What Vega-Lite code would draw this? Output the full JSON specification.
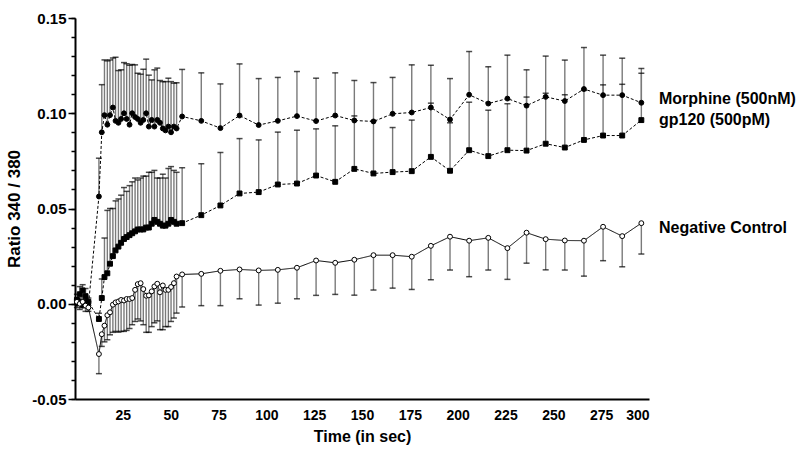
{
  "$schema": "https://vega.github.io/schema/vega-lite/v6.json",
  "width": 574,
  "height": 381,
  "autosize": "none",
  "padding": {"left": 75, "top": 18, "right": 151, "bottom": 57},
  "background": "white",
  "config": {"view": {"stroke": null}, "font": "Liberation Sans"},
  "datasets": {
    "d": [
      {"s":"M","t":1,"v":0.000,"e":0.002},{"s":"M","t":2.5,"v":0.001,"e":0.003},{"s":"M","t":4,"v":-0.001,"e":0.002},{"s":"M","t":5.5,"v":0.001,"e":0.004},{"s":"M","t":7,"v":-0.001,"e":0.001},
      {"s":"M","t":12.5,"v":0.0563,"e":0.0764},
      {"s":"M","t":14,"v":0.090,"e":0.115},{"s":"M","t":15.4,"v":0.099,"e":0.128},{"s":"M","t":16.9,"v":0.094,"e":0.1275},{"s":"M","t":18.3,"v":0.099,"e":0.128},{"s":"M","t":19.8,"v":0.103,"e":0.129},{"s":"M","t":21.2,"v":0.096,"e":0.1294},{"s":"M","t":22.7,"v":0.095,"e":0.1224},{"s":"M","t":24.1,"v":0.097,"e":0.1228},{"s":"M","t":25.6,"v":0.100,"e":0.1266},{"s":"M","t":27.0,"v":0.097,"e":0.126},{"s":"M","t":28.5,"v":0.094,"e":0.1252},{"s":"M","t":29.9,"v":0.100,"e":0.1256},{"s":"M","t":31.4,"v":0.098,"e":0.1254},{"s":"M","t":32.8,"v":0.097,"e":0.121},{"s":"M","t":34.3,"v":0.095,"e":0.1205},{"s":"M","t":35.7,"v":0.0965,"e":0.1231},{"s":"M","t":37.2,"v":0.100,"e":0.1284},{"s":"M","t":38.6,"v":0.093,"e":0.120},{"s":"M","t":40.1,"v":0.0965,"e":0.1175},{"s":"M","t":41.5,"v":0.093,"e":0.1228},{"s":"M","t":43.0,"v":0.0965,"e":0.1237},{"s":"M","t":44.4,"v":0.095,"e":0.1172},{"s":"M","t":45.9,"v":0.092,"e":0.1166},{"s":"M","t":47.3,"v":0.091,"e":0.1166},{"s":"M","t":48.8,"v":0.093,"e":0.1184},{"s":"M","t":50.2,"v":0.090,"e":0.1166},{"s":"M","t":51.7,"v":0.093,"e":0.1158},{"s":"M","t":53.1,"v":0.092,"e":0.116},
      {"s":"M","t":56,"v":0.0983,"e":0.123},{"s":"M","t":66,"v":0.0960,"e":0.1212},{"s":"M","t":76,"v":0.0922,"e":0.1154},{"s":"M","t":86,"v":0.0988,"e":0.1259},{"s":"M","t":96,"v":0.0938,"e":0.1182},{"s":"M","t":106,"v":0.0960,"e":0.1188},{"s":"M","t":116,"v":0.0985,"e":0.1219},{"s":"M","t":126,"v":0.0959,"e":0.1184},{"s":"M","t":136,"v":0.0988,"e":0.1212},{"s":"M","t":146,"v":0.0962,"e":0.1172},{"s":"M","t":156,"v":0.0957,"e":0.1161},{"s":"M","t":166,"v":0.0997,"e":0.1188},{"s":"M","t":176,"v":0.1004,"e":0.1254},{"s":"M","t":186,"v":0.1030,"e":0.1252},{"s":"M","t":196,"v":0.0967,"e":0.1182},{"s":"M","t":206,"v":0.1097,"e":0.1324},{"s":"M","t":216,"v":0.1051,"e":0.1244},{"s":"M","t":226,"v":0.1077,"e":0.1305},{"s":"M","t":236,"v":0.1040,"e":0.1228},{"s":"M","t":246,"v":0.1086,"e":0.1300},{"s":"M","t":256,"v":0.1064,"e":0.1279},{"s":"M","t":266,"v":0.1127,"e":0.1345},{"s":"M","t":276,"v":0.1095,"e":0.1305},{"s":"M","t":286,"v":0.1095,"e":0.1289},{"s":"M","t":296,"v":0.1055,"e":0.1235},

      {"s":"G","t":1,"v":0.002,"e":0.005},{"s":"G","t":2.5,"v":0.005,"e":0.009},{"s":"G","t":4,"v":0.007,"e":0.010},{"s":"G","t":5.5,"v":0.004,"e":0.008},{"s":"G","t":7,"v":0.001,"e":0.003},
      {"s":"G","t":12.5,"v":-0.008,"e":-0.005},
      {"s":"G","t":14,"v":0.003,"e":0.013},{"s":"G","t":15.4,"v":0.014,"e":0.0345},{"s":"G","t":16.9,"v":0.016,"e":0.049},{"s":"G","t":18.3,"v":0.021,"e":0.050},{"s":"G","t":19.8,"v":0.025,"e":0.050},{"s":"G","t":21.2,"v":0.028,"e":0.054},{"s":"G","t":22.7,"v":0.030,"e":0.055},{"s":"G","t":24.1,"v":0.032,"e":0.057},{"s":"G","t":25.6,"v":0.034,"e":0.061},{"s":"G","t":27.0,"v":0.035,"e":0.059},{"s":"G","t":28.5,"v":0.036,"e":0.062},{"s":"G","t":29.9,"v":0.037,"e":0.064},{"s":"G","t":31.4,"v":0.038,"e":0.066},{"s":"G","t":32.8,"v":0.039,"e":0.065},{"s":"G","t":34.3,"v":0.039,"e":0.066},{"s":"G","t":35.7,"v":0.039,"e":0.067},{"s":"G","t":37.2,"v":0.040,"e":0.067},{"s":"G","t":38.6,"v":0.040,"e":0.069},{"s":"G","t":40.1,"v":0.042,"e":0.069},{"s":"G","t":41.5,"v":0.044,"e":0.070},{"s":"G","t":43.0,"v":0.043,"e":0.066},{"s":"G","t":44.4,"v":0.042,"e":0.066},{"s":"G","t":45.9,"v":0.041,"e":0.068},{"s":"G","t":47.3,"v":0.041,"e":0.066},{"s":"G","t":48.8,"v":0.042,"e":0.071},{"s":"G","t":50.2,"v":0.044,"e":0.072},{"s":"G","t":51.7,"v":0.043,"e":0.070},{"s":"G","t":53.1,"v":0.042,"e":0.069},
      {"s":"G","t":56,"v":0.0423,"e":0.0714},{"s":"G","t":66,"v":0.0465,"e":0.0735},{"s":"G","t":76,"v":0.0516,"e":0.0794},{"s":"G","t":86,"v":0.0579,"e":0.0867},{"s":"G","t":96,"v":0.0586,"e":0.0860},{"s":"G","t":106,"v":0.0626,"e":0.0901},{"s":"G","t":116,"v":0.0631,"e":0.0911},{"s":"G","t":126,"v":0.0673,"e":0.0918},{"s":"G","t":136,"v":0.0640,"e":0.0934},{"s":"G","t":146,"v":0.0708,"e":0.0986},{"s":"G","t":156,"v":0.0684,"e":0.0960},{"s":"G","t":166,"v":0.0691,"e":0.0925},{"s":"G","t":176,"v":0.0696,"e":0.0964},{"s":"G","t":186,"v":0.0771,"e":0.1053},{"s":"G","t":196,"v":0.0698,"e":0.0950},{"s":"G","t":206,"v":0.0806,"e":0.1058},{"s":"G","t":216,"v":0.0775,"e":0.1016},{"s":"G","t":226,"v":0.0806,"e":0.105},{"s":"G","t":236,"v":0.0804,"e":0.1085},{"s":"G","t":246,"v":0.0840,"e":0.1105},{"s":"G","t":256,"v":0.0820,"e":0.1097},{"s":"G","t":266,"v":0.0860,"e":0.112},{"s":"G","t":276,"v":0.0883,"e":0.1149},{"s":"G","t":286,"v":0.0883,"e":0.1152},{"s":"G","t":296,"v":0.0964,"e":0.121},

      {"s":"N","t":1,"v":0.001,"e":-0.002},{"s":"N","t":2.5,"v":0.000,"e":-0.003},{"s":"N","t":4,"v":0.001,"e":-0.002},{"s":"N","t":5.5,"v":-0.001,"e":-0.004},{"s":"N","t":7,"v":-0.002,"e":-0.004},
      {"s":"N","t":12.5,"v":-0.0264,"e":-0.0367},
      {"s":"N","t":14,"v":-0.016,"e":-0.0224},{"s":"N","t":15.4,"v":-0.0115,"e":-0.020},{"s":"N","t":16.9,"v":-0.006,"e":-0.0189},{"s":"N","t":18.3,"v":-0.0045,"e":-0.0163},{"s":"N","t":19.8,"v":-0.0005,"e":-0.015},{"s":"N","t":21.2,"v":0.0007,"e":-0.0145},{"s":"N","t":22.7,"v":0.0012,"e":-0.0149},{"s":"N","t":24.1,"v":0.002,"e":-0.0145},{"s":"N","t":25.6,"v":0.0017,"e":-0.0145},{"s":"N","t":27.0,"v":0.0025,"e":-0.014},{"s":"N","t":28.5,"v":0.0025,"e":-0.013},{"s":"N","t":29.9,"v":0.003,"e":-0.011},{"s":"N","t":31.4,"v":0.0073,"e":-0.0093},{"s":"N","t":32.8,"v":0.0103,"e":-0.008},{"s":"N","t":34.3,"v":0.0108,"e":-0.009},{"s":"N","t":35.7,"v":0.0077,"e":-0.011},{"s":"N","t":37.2,"v":0.0042,"e":-0.015},{"s":"N","t":38.6,"v":0.0044,"e":-0.015},{"s":"N","t":40.1,"v":0.0065,"e":-0.012},{"s":"N","t":41.5,"v":0.0091,"e":-0.010},{"s":"N","t":43.0,"v":0.0105,"e":-0.009},{"s":"N","t":44.4,"v":0.006,"e":-0.0136},{"s":"N","t":45.9,"v":0.0096,"e":-0.0136},{"s":"N","t":47.3,"v":0.0073,"e":-0.012},{"s":"N","t":48.8,"v":0.0073,"e":-0.012},{"s":"N","t":50.2,"v":0.0088,"e":-0.0093},{"s":"N","t":51.7,"v":0.0108,"e":-0.0075},{"s":"N","t":53.1,"v":0.0143,"e":-0.0049},
      {"s":"N","t":56,"v":0.0154,"e":-0.0017},{"s":"N","t":66,"v":0.0157,"e":-0.0010},{"s":"N","t":76,"v":0.0173,"e":-0.0010},{"s":"N","t":86,"v":0.0180,"e":0.0026},{"s":"N","t":96,"v":0.0175,"e":-0.0007},{"s":"N","t":106,"v":0.0178,"e":0.0003},{"s":"N","t":116,"v":0.0189,"e":0.0026},{"s":"N","t":126,"v":0.0227,"e":0.0044},{"s":"N","t":136,"v":0.0215,"e":0.0049},{"s":"N","t":146,"v":0.0231,"e":0.0045},{"s":"N","t":156,"v":0.0255,"e":0.0072},{"s":"N","t":166,"v":0.0255,"e":0.0082},{"s":"N","t":176,"v":0.0247,"e":0.0075},{"s":"N","t":186,"v":0.0304,"e":0.0126},{"s":"N","t":196,"v":0.0352,"e":0.0177},{"s":"N","t":206,"v":0.0331,"e":0.0142},{"s":"N","t":216,"v":0.0346,"e":0.0177},{"s":"N","t":226,"v":0.0292,"e":0.0128},{"s":"N","t":236,"v":0.0373,"e":0.0213},{"s":"N","t":246,"v":0.0339,"e":0.0178},{"s":"N","t":256,"v":0.0332,"e":0.0177},{"s":"N","t":266,"v":0.0331,"e":0.0145},{"s":"N","t":276,"v":0.0404,"e":0.0226},{"s":"N","t":286,"v":0.0355,"e":0.0194},{"s":"N","t":296,"v":0.0423,"e":0.0261}
    ],
    "labels": [
      {"label":"Morphine (500nM)","t":300,"v":0.1075},
      {"label":"gp120 (500pM)","t":300,"v":0.0965},
      {"label":"Negative Control","t":300,"v":0.040}
    ]
  },
  "resolve": {"axis": {"y": "independent"}},
  "layer": [
    {
      "data": {"name": "d"},
      "mark": {"type": "rule", "color": "#7a7a7a", "strokeWidth": 1.4},
      "encoding": {
        "x": {"field": "t", "type": "quantitative", "scale": {"domain": [0, 300], "nice": false, "zero": false},
          "axis": {"values": [25,50,75,100,125,150,175,200,225,250,275,300], "ticks": false, "labelPadding": 9, "labelFont": "Liberation Sans", "labelFontWeight": "bold", "labelFontSize": 14, "labelColor": "black", "domainColor": "black", "domainWidth": 2, "grid": false, "title": "Time (in sec)", "titleFont": "Liberation Sans", "titleFontWeight": "bold", "titleFontSize": 16, "titleColor": "black", "titlePadding": 6}},
        "y": {"field": "v", "type": "quantitative", "scale": {"domain": [-0.05, 0.15], "nice": false, "zero": false},
          "axis": {"orient": "left", "values": [-0.05,-0.04,-0.03,-0.02,-0.01,0,0.01,0.02,0.03,0.04,0.05,0.06,0.07,0.08,0.09,0.1,0.11,0.12,0.13,0.14,0.15], "labels": false, "tickSize": 4, "tickWidth": 1.5, "tickColor": "black", "domainColor": "black", "domainWidth": 2, "grid": false, "title": null}},
        "y2": {"field": "e"}
      }
    },
    {
      "data": {"name": "d"},
      "mark": {"type": "tick", "orient": "horizontal", "color": "black", "size": 6, "thickness": 1.5},
      "encoding": {
        "x": {"field": "t", "type": "quantitative"},
        "y": {"field": "e", "type": "quantitative",
          "axis": {"orient": "left", "values": [-0.05, 0, 0.05, 0.1, 0.15], "format": ".2f", "labelExpr": "replace(datum.label, '\u2212', '-')", "tickSize": 7, "tickWidth": 1.5, "tickColor": "black", "domain": false, "grid": false, "labelPadding": 2, "labelFont": "Liberation Sans", "labelFontWeight": "bold", "labelFontSize": 15, "labelColor": "black", "title": "Ratio 340 / 380", "titleFont": "Liberation Sans", "titleFontWeight": "bold", "titleFontSize": 17, "titleColor": "black", "titlePadding": 8}}
      }
    },
    {
      "data": {"name": "d"},
      "mark": {"type": "line", "color": "black", "strokeWidth": 1},
      "encoding": {
        "x": {"field": "t", "type": "quantitative"},
        "y": {"field": "v", "type": "quantitative", "axis": null},
        "detail": {"field": "s"},
        "strokeDash": {"field": "s", "type": "nominal", "scale": {"domain": ["M","G","N"], "range": [[3,2],[3,2],[1,0]]}, "legend": null}
      }
    },
    {
      "data": {"name": "d"},
      "mark": {"type": "point", "filled": true, "stroke": "black", "strokeWidth": 1, "opacity": 1},
      "encoding": {
        "x": {"field": "t", "type": "quantitative"},
        "y": {"field": "v", "type": "quantitative", "axis": null},
        "shape": {"field": "s", "type": "nominal", "scale": {"domain": ["M","G","N"], "range": ["circle","square","circle"]}, "legend": null},
        "fill": {"field": "s", "type": "nominal", "scale": {"domain": ["M","G","N"], "range": ["black","black","white"]}, "legend": null},
        "size": {"field": "s", "type": "nominal", "scale": {"domain": ["M","G","N"], "range": [24, 24, 34]}, "legend": null}
      }
    },
    {
      "data": {"name": "labels"},
      "mark": {"type": "text", "align": "left", "baseline": "middle", "dx": 10, "font": "Liberation Sans", "fontWeight": "bold", "fontSize": 16, "color": "black"},
      "encoding": {
        "x": {"field": "t", "type": "quantitative"},
        "y": {"field": "v", "type": "quantitative", "axis": null},
        "text": {"field": "label"}
      }
    }
  ]
}
